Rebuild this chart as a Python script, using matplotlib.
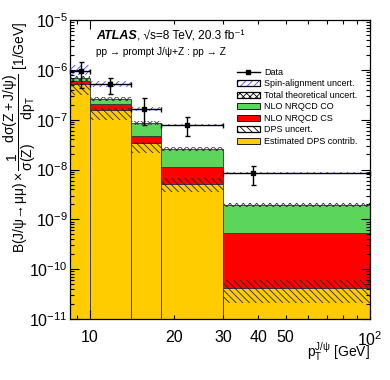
import matplotlib
matplotlib.use("Agg")
import matplotlib.pyplot as plt
from matplotlib.patches import Patch
from matplotlib.lines import Line2D
import numpy as np

plt.rcParams['font.family'] = ['Liberation Sans', 'DejaVu Sans']
plt.rcParams['mathtext.fontset'] = 'custom'
plt.rcParams['mathtext.rm'] = 'Liberation Sans'
plt.rcParams['mathtext.it'] = 'Liberation Sans:italic'
plt.rcParams['mathtext.bf'] = 'Liberation Sans:bold'
plt.rcParams['hatch.linewidth'] = 0.6

# pT bins [GeV]
bin_edges = [8.5, 10, 14, 18, 30, 100]

# stacked predictions (per bin contribution)
dps_contrib = [5.2e-7, 1.57e-7, 3.35e-8, 5.2e-9, 4.25e-11]
nrqcd_cs = [8.0e-8, 4.6e-8, 1.38e-8, 6.1e-9, 4.96e-10]
nrqcd_co = [7.3e-8, 5.8e-8, 3.9e-8, 1.47e-8, 1.42e-9]

# uncertainty bands (lower, upper)
dps_lo = [3.14e-7, 9.9e-8, 2.16e-8, 3.57e-9, 2.13e-11]
dps_hi = [5.46e-7, 1.68e-7, 3.5e-8, 6.8e-9, 6.2e-11]
theo_lo = [6.1e-7, 2.35e-7, 7.8e-8, 2.35e-8, 1.77e-9]
theo_hi = [7.4e-7, 2.87e-7, 9.5e-8, 2.86e-8, 2.16e-9]

# data
data_x = [9.29, 11.8, 15.6, 22.2, 38.2]
data_y = [9.5e-7, 5.2e-7, 1.64e-7, 7.9e-8, 8.6e-9]
data_up = [1.44e-6, 6.9e-7, 2.73e-7, 1.14e-7, 1.19e-8]
data_dn = [4.3e-7, 3.3e-7, 7.9e-8, 4.7e-8, 4.9e-9]
spin_lo = [7.9e-7, 4.5e-7, 1.50e-7, 7.6e-8, 8.3e-9]
spin_hi = [1.25e-6, 6.0e-7, 1.81e-7, 8.3e-8, 8.8e-9]

YELLOW = "#ffcc00"
RED = "#ff0000"
GREEN = "#5bd65b"
BLUE = "#4a4aff"

fig = plt.figure(figsize=(3.9, 3.8), dpi=100)
ax = fig.add_axes([70 / 390, 61 / 380, 300 / 390, 299 / 380])
ax.set_xscale("log")
ax.set_yscale("log")

lo_edge = np.array(bin_edges[:-1])
widths = np.diff(bin_edges)
dps = np.array(dps_contrib)
cs = np.array(nrqcd_cs)
co = np.array(nrqcd_co)

ax.bar(lo_edge, dps - 1e-13, bottom=1e-13, width=widths, align="edge",
       color=YELLOW, edgecolor="#333333", lw=0.6, zorder=1)
ax.bar(lo_edge, cs, bottom=dps, width=widths, align="edge",
       color=RED, edgecolor="#333333", lw=0.6, zorder=1)
ax.bar(lo_edge, co, bottom=dps + cs, width=widths, align="edge",
       color=GREEN, edgecolor="#333333", lw=0.6, zorder=1)

# DPS uncertainty
ax.bar(lo_edge, np.array(dps_hi) - np.array(dps_lo), bottom=dps_lo,
       width=widths, align="edge", facecolor="none", edgecolor="#222222",
       lw=0, hatch="\\\\\\\\\\", zorder=2)
# total theoretical uncertainty
ax.bar(lo_edge, np.array(theo_hi) - np.array(theo_lo), bottom=theo_lo,
       width=widths, align="edge", facecolor="none", edgecolor="#333333",
       lw=0, hatch="xxxxx", zorder=2)
# spin-alignment uncertainty
ax.bar(lo_edge, np.array(spin_hi) - np.array(spin_lo), bottom=spin_lo,
       width=widths, align="edge", facecolor="none", edgecolor=BLUE,
       lw=0, hatch="/////", zorder=3)

dx = np.array(data_x)
dy = np.array(data_y)
xerr = [dx - lo_edge, np.array(bin_edges[1:]) - dx]
yerr = [dy - np.array(data_dn), np.array(data_up) - dy]
ax.errorbar(dx, dy, xerr=xerr, yerr=yerr, fmt="s", color="black",
            ms=3.4, lw=1.0, capsize=1.8, capthick=1.0, zorder=4,
            clip_on=False)

ax.set_xlim(8.5, 100)
ax.set_ylim(1e-11, 1e-5)

ax.set_xticks([10, 100], labels=["10", r"$10^{2}$"])
ax.set_xticks([9, 20, 30, 40, 50, 60, 70, 80, 90],
              labels=["", "20", "30", "40", "50", "", "", "", ""], minor=True)
ax.yaxis.set_major_locator(matplotlib.ticker.LogLocator(base=10, numticks=10))
ax.yaxis.set_minor_locator(matplotlib.ticker.LogLocator(
    base=10, subs=np.arange(2, 10), numticks=20))
ax.yaxis.set_minor_formatter(matplotlib.ticker.NullFormatter())

ax.tick_params(which="both", direction="in", top=True, right=True,
               labelsize=11.5, width=0.8)
ax.tick_params(which="major", length=6.5)
ax.tick_params(which="minor", length=3.2)
ax.tick_params(axis="x", which="both", pad=8)
ax.tick_params(axis="y", which="both", pad=1.5)
for s in ax.spines.values():
    s.set_linewidth(0.9)

ax.set_xlabel(r"$\mathrm{p_{T}^{J/\psi}}$ [GeV]", fontsize=10, loc="right",
              va="top")
ax.xaxis.set_label_coords(1.0, -0.072)
ax.set_ylabel(r"$\mathrm{B(J/\psi\!\rightarrow\!\mu\mu)\times\dfrac{1}{\sigma(Z)}"
              r"\dfrac{d\sigma(Z+J/\psi)}{dp_{T}}}$ [1/GeV]",
              fontsize=10, loc="top")
ax.yaxis.set_label_coords(-0.105, 0.995)

atlas = ax.text(0.087, 0.935, "ATLAS", transform=ax.transAxes,
                fontsize=9, fontweight="bold", fontstyle="italic",
                va="baseline")
ax.annotate(", \u221as=8 TeV, 20.3 fb\u207b\u00b9", xy=(1, 0),
            xycoords=atlas, fontsize=8.6, va="bottom")
ax.text(0.087, 0.883, "pp \u2192 prompt J/\u03c8+Z : pp \u2192 Z",
        transform=ax.transAxes, fontsize=7.3, va="baseline")

handles = [
    Line2D([], [], color="black", marker="s", ms=3.3, lw=1.0),
    (Patch(facecolor="white", edgecolor=BLUE, lw=0, hatch="/////"),
     Patch(facecolor="none", edgecolor="black", lw=0.9)),
    Patch(facecolor="white", edgecolor="black", lw=0.9, hatch="xxxxx"),
    Patch(facecolor=GREEN, edgecolor="black", lw=0.6),
    Patch(facecolor=RED, edgecolor="black", lw=0.6),
    Patch(facecolor="white", edgecolor="black", lw=0.9, hatch="\\\\\\\\\\"),
    Patch(facecolor=YELLOW, edgecolor="black", lw=0.6),
]
labels = ["Data", "Spin-alignment uncert.", "Total theoretical uncert.",
          "NLO NRQCD CO", "NLO NRQCD CS", "DPS uncert.",
          "Estimated DPS contrib."]
ax.legend(handles, labels, loc="upper left", bbox_to_anchor=(0.557, 0.84),
          frameon=False, fontsize=6.5, borderpad=0, borderaxespad=0,
          handlelength=2.5, handletextpad=0.5, labelspacing=0.28)

fig.savefig("out.png", dpi=100)
